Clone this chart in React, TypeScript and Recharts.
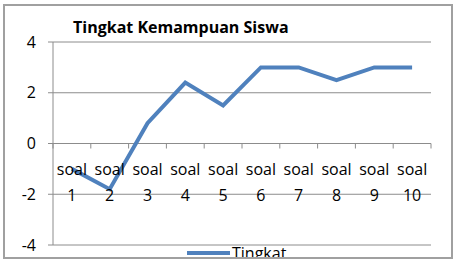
import { LineChart, Line, XAxis, YAxis, CartesianGrid, Legend } from 'recharts'

const categories = ['1', '2', '3', '4', '5', '6', '7', '8', '9', '10']
const tingkat = [-1.0, -1.8, 0.8, 2.4, 1.5, 3, 3, 2.5, 3, 3]
const yTicks = [-4, -2, 0, 2, 4]

const data = categories.map((c, i) => ({ name: c, tingkat: tingkat[i] }))

const W = 459
const H = 266
const X_H = 1
const M = { top: 42, right: 28, bottom: 21 - X_H, left: 0 }
const Y_W = 53
const plotW = W - M.left - M.right - Y_W
const plotH = H - M.top - M.bottom - X_H
const zeroY = M.top + plotH * (4 / 8)
const band = plotW / categories.length
const FONT = '"Open Sans", sans-serif'
const BLUE = '#4f81bd'
const GRID = '#8c8c8c'

function SoalTick(props: any) {
  const { x, payload, index } = props
  const left = x - band / 2
  return (
    <g>
      <line x1={left} x2={left} y1={zeroY} y2={zeroY + 5} stroke={GRID} />
      {index === categories.length - 1 && (
        <line x1={left + band} x2={left + band} y1={zeroY} y2={zeroY + 5} stroke={GRID} />
      )}
      <text x={x} y={zeroY + 31} textAnchor="middle" fontSize={16} fontFamily={FONT} fill="#000">
        soal
      </text>
      <text x={x} y={zeroY + 57} textAnchor="middle" fontSize={16} fontFamily={FONT} fill="#000">
        {payload.value}
      </text>
    </g>
  )
}

function LegendBox() {
  return (
    <div style={{ display: 'flex', alignItems: 'center', fontFamily: FONT, fontSize: 16 }}>
      <div style={{ width: 43, height: 4, background: BLUE, marginRight: 2 }} />
      <span>Tingkat</span>
    </div>
  )
}

export default function App() {
  return (
    <div style={{ position: 'absolute', left: 0, top: 0, width: W, height: H, background: '#fff' }}>
      <div style={{ position: 'absolute', left: 0, top: 0, width: W, height: 257, overflow: 'hidden' }}>
        <LineChart width={W} height={H} data={data} margin={M}>
          <CartesianGrid horizontal vertical={false} stroke={GRID} />
          <XAxis
            dataKey="name"
            scale="band"
            height={X_H}
            axisLine={false}
            tickLine={false}
            tick={<SoalTick />}
            interval={0}
          />
          <YAxis
            width={Y_W}
            domain={[-4, 4]}
            ticks={yTicks}
            tickSize={5}
            tickMargin={12}
            stroke={GRID}
            tick={{ fill: '#000', fontSize: 16, fontFamily: FONT }}
          />
          <Legend
            layout="horizontal"
            verticalAlign="middle"
            align="center"
            content={<LegendBox />}
            wrapperStyle={{ top: 242, left: 187, width: 'auto' }}
          />
          <Line
            type="linear"
            dataKey="tingkat"
            stroke={BLUE}
            strokeWidth={4}
            dot={false}
            isAnimationActive={false}
          />
        </LineChart>
      </div>
      <div
        style={{
          position: 'absolute',
          left: 73,
          top: 16,
          fontFamily: FONT,
          fontWeight: 'bold',
          fontSize: 16,
          whiteSpace: 'nowrap',
        }}
      >
        Tingkat Kemampuan Siswa
      </div>
      <div
        style={{
          position: 'absolute',
          left: 3,
          top: 4,
          width: 446,
          height: 251,
          border: '2px solid #a0a0a0',
        }}
      />
    </div>
  )
}
